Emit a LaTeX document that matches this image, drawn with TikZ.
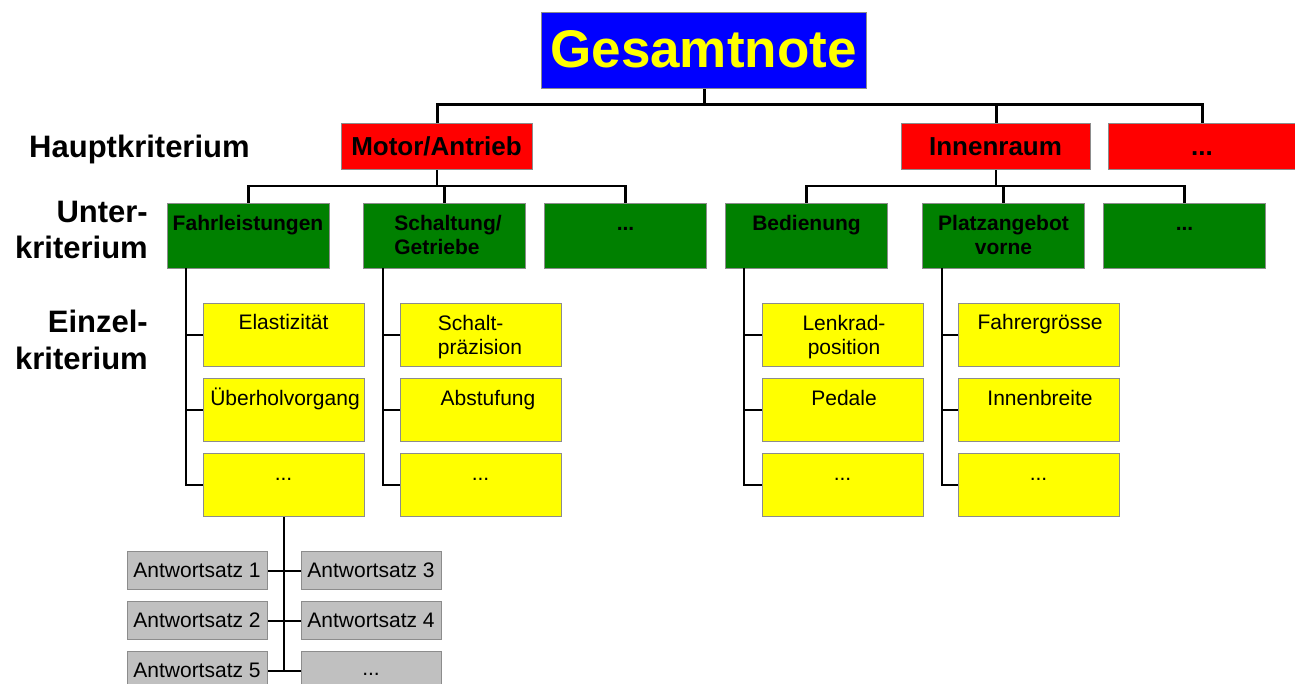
\documentclass[tikz,border=0pt]{standalone}
\usepackage{fontspec}
\setmainfont{Liberation Sans}
\definecolor{cblue}{HTML}{0000FF}
\definecolor{cyel}{HTML}{FFFF00}
\definecolor{cred}{HTML}{FF0000}
\definecolor{cgreen}{HTML}{008000}
\definecolor{cgray}{HTML}{C0C0C0}
\definecolor{cborder}{HTML}{8C8C8C}
\begin{document}
\begin{tikzpicture}[x=1pt,y=-1pt,
  bx/.style={draw=cborder, line width=1.3pt, inner sep=0pt, anchor=north west},
  topbox/.style={bx, fill=cblue, minimum width=325pt, minimum height=76pt},
  redbox/.style={bx, fill=cred, minimum height=46pt},
  grnbox/.style={bx, fill=cgreen, minimum width=162pt, minimum height=65pt},
  yelbox/.style={bx, fill=cyel, minimum width=161pt, minimum height=63pt},
  gryboxst/.style={bx, fill=cgray, minimum width=140pt, minimum height=38pt},
  tx/.style={inner sep=0pt, anchor=base, align=center},
  toptx/.style={tx, text=cyel, font=\fontsize{53}{60}\selectfont\bfseries},
  redtx/.style={tx, font=\fontsize{26}{30}\selectfont\bfseries},
  grntx/.style={tx, font=\fontsize{21}{24}\selectfont\bfseries},
  yeltx/.style={tx, font=\fontsize{21}{24}\selectfont},
  lbltx/.style={inner sep=0pt, anchor=base east, align=right, font=\fontsize{31}{36}\selectfont\bfseries},
  lA/.style={line width=3pt},
  lB/.style={line width=2.5pt},
  lC/.style={line width=1.6pt},
  lD/.style={line width=2pt}]
\useasboundingbox (0,0) rectangle (1295,684);

% level 0
\node[topbox] (G) at (541,12) {};
\node[toptx] (Gt) at (703.5,68) {Gesamtnote};

% level 1
\node[redbox, minimum width=191pt] (M) at (341,123) {};
\node[redtx] (Mt) at (436.5,155.5) {Motor/Antrieb};
\node[redbox, minimum width=189pt] (I) at (901,123) {};
\node[redtx] (It) at (995.5,155.5) {Innenraum};
\node[redbox, minimum width=188pt] (R) at (1108,123) {};
\node[redtx] (Rt) at (1202,155.5) {...};

% level 2
\node[grnbox] (F) at (167,203) {};
\node[grntx] (Ft) at (248,230.5) {Fahrleistungen};
\node[grnbox] (S) at (363,203) {};
\node[grntx, align=left] (St) at (448,254.5) {Schaltung/\\Getriebe};
\node[grnbox] (D1) at (544,203) {};
\node[grntx] (D1t) at (625.5,230.5) {...};
\node[grnbox] (B) at (725,203) {};
\node[grntx] (Bt) at (806.5,230.5) {Bedienung};
\node[grnbox] (P) at (922,203) {};
\node[grntx] (Pt) at (1003.5,254.5) {Platzangebot\\vorne};
\node[grnbox] (D2) at (1103,203) {};
\node[grntx] (D2t) at (1184.5,230.5) {...};

% level 3
\node[yelbox] (E1) at (203,303) {};
\node[yeltx] (E1t) at (283.5,330) {Elastizität};
\node[yelbox] (E2) at (203,378) {};
\node[yeltx] (E2t) at (285,405) {Überholvorgang};
\node[yelbox] (E3) at (203,453) {};
\node[yeltx] (E3t) at (283.5,480) {...};

\node[yelbox] (S1) at (400,303) {};
\node[yeltx, align=left] (S1t) at (480,354) {Schalt-\\präzision};
\node[yelbox] (S2) at (400,378) {};
\node[yeltx] (S2t) at (488,405) {Abstufung};
\node[yelbox] (S3) at (400,453) {};
\node[yeltx] (S3t) at (480.5,480) {...};

\node[yelbox] (L1) at (762,303) {};
\node[yeltx] (L1t) at (844,354) {Lenkrad-\\position};
\node[yelbox] (L2) at (762,378) {};
\node[yeltx] (L2t) at (844,405) {Pedale};
\node[yelbox] (L3) at (762,453) {};
\node[yeltx] (L3t) at (842.5,480) {...};

\node[yelbox] (K1) at (958,303) {};
\node[yeltx] (K1t) at (1040,330) {Fahrergrösse};
\node[yelbox] (K2) at (958,378) {};
\node[yeltx] (K2t) at (1040,405) {Innenbreite};
\node[yelbox] (K3) at (958,453) {};
\node[yeltx] (K3t) at (1038.5,480) {...};

% answer sets
\node[gryboxst] (A1) at (127,551) {};
\node[yeltx] (A1t) at (197,577.5) {Antwortsatz 1};
\node[gryboxst] (A2) at (127,601) {};
\node[yeltx] (A2t) at (197,627.5) {Antwortsatz 2};
\node[gryboxst] (A5) at (127,651) {};
\node[yeltx] (A5t) at (197,677.5) {Antwortsatz 5};
\node[gryboxst] (A3) at (301,551) {};
\node[yeltx] (A3t) at (371,577.5) {Antwortsatz 3};
\node[gryboxst] (A4) at (301,601) {};
\node[yeltx] (A4t) at (371,627.5) {Antwortsatz 4};
\node[gryboxst] (A6) at (301,651) {};
\node[yeltx] (A6t) at (371,675) {...};

% row labels
\node[inner sep=0pt, anchor=base west, font=\fontsize{31}{36}\selectfont\bfseries] (H) at (29,158) {Hauptkriterium};
\node[lbltx] (U) at (148,259) {Unter-\\kriterium};
\node[lbltx] (EK) at (148,369) {Einzel-\\kriterium};

% connectors level 0-1
\coordinate (b0) at (G.south |- 0,105);
\draw[lA] (G.south) -- (b0);
\draw[lA] (b0) -| (M.north);
\draw[lA] (b0) -| (I.north);
\draw[lA] (b0) -| (R.north);

% level 1-2
\coordinate (b1) at (M.south |- 0,186);
\draw[lB] (M.south) -- (b1);
\draw[lB] (b1) -| (F.north);
\draw[lB] (b1) -| (S.north);
\draw[lB] (b1) -| (D1.north);
\coordinate (b2) at (I.south |- 0,186);
\draw[lB] (I.south) -- (b2);
\draw[lB] (b2) -| (B.north);
\draw[lB] (b2) -| (P.north);
\draw[lB] (b2) -| (D2.north);

% level 2-3
\coordinate (f0) at (186,268);
\draw[lC] (f0) |- (E3.west);
\draw[lC] (E1.west) -- (E1.west -| f0);
\draw[lC] (E2.west) -- (E2.west -| f0);
\coordinate (s0) at (383,268);
\draw[lC] (s0) |- (S3.west);
\draw[lC] (S1.west) -- (S1.west -| s0);
\draw[lC] (S2.west) -- (S2.west -| s0);
\coordinate (l0) at (744,268);
\draw[lC] (l0) |- (L3.west);
\draw[lC] (L1.west) -- (L1.west -| l0);
\draw[lC] (L2.west) -- (L2.west -| l0);
\coordinate (k0) at (942,268);
\draw[lC] (k0) |- (K3.west);
\draw[lC] (K1.west) -- (K1.west -| k0);
\draw[lC] (K2.west) -- (K2.west -| k0);

% level 3-answers
\draw[lD] (E3.south) -- (E3.south |- A5.east);
\draw[lD] (A1.east) -- (A3.west);
\draw[lD] (A2.east) -- (A4.west);
\draw[lD] (A5.east) -- (A6.west);
\end{tikzpicture}
\end{document}
